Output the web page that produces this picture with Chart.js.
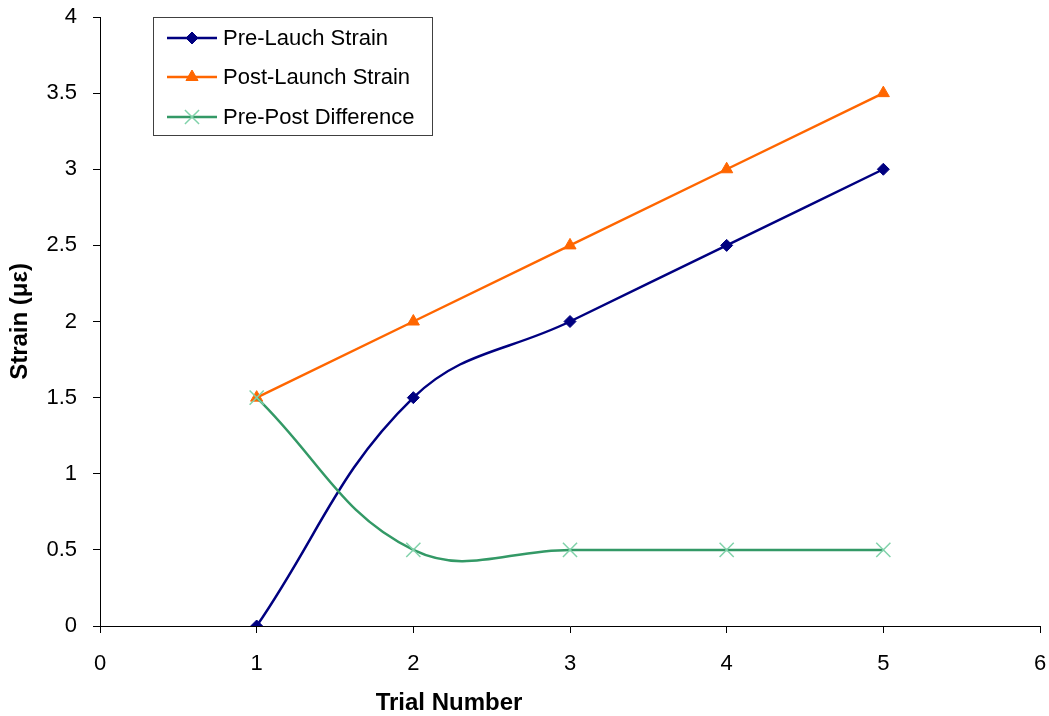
<!DOCTYPE html>
<html>
<head>
<meta charset="utf-8">
<title>Strain by Trial</title>
<script src="https://cdn.jsdelivr.net/npm/chart.js@4.4.1/dist/chart.umd.min.js"></script>
<style>
  html, body { margin: 0; padding: 0; background: #fff; }
  #wrap { position: relative; width: 1049px; height: 716px; }
</style>
</head>
<body>
<div id="wrap"><canvas id="strain"></canvas></div>
<script>
/* Data */
const trials = [1, 2, 3, 4, 5];
const preLaunch = [0, 1.5, 2, 2.5, 3];
const postLaunch = [1.5, 2, 2.5, 3, 3.5];
const prePostDiff = [1.5, 0.5, 0.5, 0.5, 0.5];

const seriesNames = ['Pre-Lauch Strain', 'Post-Launch Strain', 'Pre-Post Difference'];
const xTitle = 'Trial Number';
const yTitle = 'Strain (με)';

function toPoints(values) {
  return trials.map((t, i) => ({ x: t, y: values[i] }));
}

const FONT = "'Liberation Sans', Arial, sans-serif";
const tickFont = { family: FONT, size: 22 };
const titleFont = { family: FONT, size: 24, weight: 'bold' };

/* Legend box drawn inside the plot, top left */
const boxLegend = {
  id: 'boxLegend',
  afterDraw(chart) {
    const ctx = chart.ctx;
    const x0 = 153, y0 = 17, w = 279, h = 118;
    ctx.save();
    ctx.fillStyle = '#fff';
    ctx.fillRect(x0, y0, w, h);
    ctx.strokeStyle = '#404040';
    ctx.lineWidth = 1;
    ctx.strokeRect(x0 + 0.5, y0 + 0.5, w, h);

    const rows = [38, 77, 117];
    chart.data.datasets.forEach((ds, i) => {
      const y = rows[i];
      ctx.strokeStyle = ds.borderColor;
      ctx.lineWidth = ds.borderWidth;
      ctx.beginPath();
      ctx.moveTo(167, y);
      ctx.lineTo(217, y);
      ctx.stroke();
      ctx.fillStyle = ds.pointBackgroundColor;
      ctx.strokeStyle = ds.pointBorderColor;
      ctx.lineWidth = ds.pointBorderWidth;
      Chart.helpers.drawPoint(ctx, {
        pointStyle: ds.pointStyle,
        radius: ds.pointRadius,
        borderWidth: ds.pointBorderWidth,
        rotation: 0
      }, 192, y);
      ctx.fillStyle = '#000';
      ctx.font = '22px ' + FONT;
      ctx.textBaseline = 'middle';
      ctx.textAlign = 'left';
      ctx.fillText(ds.label, 223, y + 1);
    });
    ctx.restore();
  }
};

/* x axis title sits left of the plot centre */
const xAxisTitle = {
  id: 'xAxisTitle',
  afterDraw(chart) {
    const ctx = chart.ctx;
    ctx.save();
    ctx.fillStyle = '#000';
    ctx.font = 'bold 24px ' + FONT;
    ctx.textAlign = 'center';
    ctx.textBaseline = 'middle';
    ctx.fillText(xTitle, 449, 703);
    ctx.restore();
  }
};

new Chart(document.getElementById('strain'), {
  type: 'scatter',
  data: {
    datasets: [
      {
        label: seriesNames[0],
        data: toPoints(preLaunch),
        showLine: true,
        tension: 0.4,
        borderColor: '#000080',
        borderWidth: 2.5,
        pointStyle: 'rectRot',
        pointRadius: 6,
        pointBackgroundColor: '#000080',
        pointBorderColor: '#000080',
        pointBorderWidth: 1,
        order: 2
      },
      {
        label: seriesNames[1],
        data: toPoints(postLaunch),
        showLine: true,
        tension: 0,
        borderColor: '#FF6600',
        borderWidth: 2.5,
        pointStyle: 'triangle',
        pointRadius: 7,
        pointBackgroundColor: '#FF6600',
        pointBorderColor: '#FF6600',
        pointBorderWidth: 1,
        order: 1
      },
      {
        label: seriesNames[2],
        data: toPoints(prePostDiff),
        showLine: true,
        tension: 0.4,
        borderColor: '#339966',
        borderWidth: 2.5,
        pointStyle: 'crossRot',
        pointRadius: 10,
        pointBackgroundColor: '#80d2aa',
        pointBorderColor: '#80d2aa',
        pointBorderWidth: 1.5,
        order: 0
      }
    ]
  },
  options: {
    responsive: true,
    maintainAspectRatio: false,
    animation: false,
    events: [],
    layout: {
      autoPadding: false,
      padding: { top: 17, right: 9, left: 0, bottom: 0 }
    },
    plugins: {
      legend: { display: false },
      tooltip: { enabled: false }
    },
    scales: {
      x: {
        type: 'linear',
        min: 0,
        max: 6,
        afterFit(scale) {
          scale.height = 90;
          scale.paddingLeft = 0;
          scale.paddingRight = 0;
        },
        ticks: {
          stepSize: 1,
          color: '#000',
          padding: 18,
          font: tickFont,
          callback: v => String(v)
        },
        grid: { drawOnChartArea: false, color: '#000', tickLength: 7 },
        border: { color: '#000', width: 1 }
      },
      y: {
        min: 0,
        max: 4,
        afterFit(scale) {
          scale.width = 100;
          scale.paddingTop = 0;
          scale.paddingBottom = 0;
        },
        ticks: {
          stepSize: 0.5,
          color: '#000',
          padding: 16,
          font: tickFont,
          callback: v => String(v)
        },
        grid: { drawOnChartArea: false, color: '#000', tickLength: 7 },
        border: { color: '#000', width: 1 },
        title: {
          display: true,
          text: yTitle,
          color: '#000',
          padding: { top: 6, bottom: 0 },
          font: titleFont
        }
      }
    }
  },
  plugins: [boxLegend, xAxisTitle]
});
</script>
</body>
</html>
